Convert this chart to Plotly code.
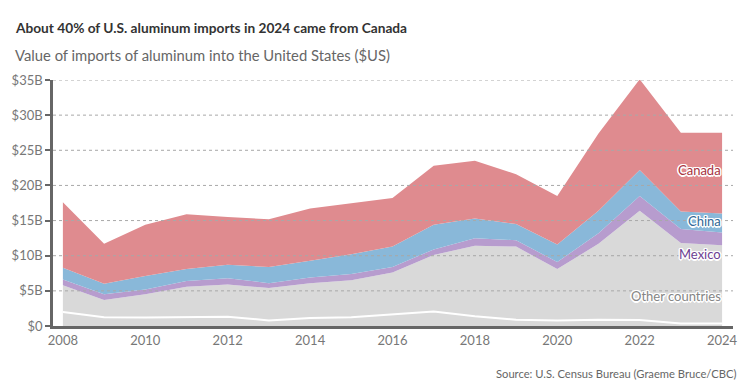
import plotly.graph_objects as go

years = list(range(2008, 2025))

# Values in $ billions (stack order bottom -> top)
other_base = [2.0, 1.25, 1.2, 1.3, 1.3, 0.8, 1.15, 1.25, 1.6, 2.05, 1.4, 0.9, 0.8, 0.9, 0.85, 0.35, 0.35]
other_rest = [3.8, 2.45, 3.3, 4.3, 4.6, 4.6, 4.95, 5.25, 6.0, 8.05, 10.0, 10.4, 7.3, 10.8, 15.55, 11.45, 11.15]
mexico = [0.8, 0.8, 0.7, 0.8, 0.9, 0.7, 0.8, 0.9, 0.8, 0.8, 1.1, 0.9, 1.0, 1.5, 2.1, 2.0, 1.8]
china = [1.7, 1.5, 1.9, 1.7, 1.9, 2.3, 2.4, 2.8, 2.9, 3.5, 2.8, 2.3, 2.5, 3.2, 3.7, 2.5, 2.7]
canada = [9.3, 5.7, 7.3, 7.8, 6.8, 6.8, 7.4, 7.3, 6.9, 8.4, 8.2, 7.1, 6.9, 11.0, 12.9, 11.2, 11.5]

y_ticks = [0, 5, 10, 15, 20, 25, 30, 35]
y_ticktext = ["$0", "$5B", "$10B", "$15B", "$20B", "$25B", "$30B", "$35B"]
x_ticks = [2008, 2010, 2012, 2014, 2016, 2018, 2020, 2022, 2024]

FONT = "Lato"
GREY = "#d9d9d9"

fig = go.Figure()

def add_layer(name, vals, fill, line_color=None, line_width=0):
    fig.add_trace(go.Scatter(
        x=years, y=vals, name=name, mode="lines", stackgroup="one",
        fillcolor=fill,
        line=dict(width=line_width, color=line_color or fill),
        hoverinfo="skip",
    ))

add_layer("Other (base)", other_base, GREY, "#ffffff", 2)
add_layer("Other countries", other_rest, GREY)
add_layer("Mexico", mexico, "#b79cce")
add_layer("China", china, "#89b8d9")
add_layer("Canada", canada, "#df8b8f")

# dotted gridlines drawn above the areas
for v in y_ticks[1:]:
    fig.add_shape(type="line", xref="paper", x0=0, x1=1, yref="y", y0=v, y1=v,
                  line=dict(color="#a8a8a8", width=1, dash="dot"), layer="above")

halo = ("-1px -1px 0 #fff, 1px -1px 0 #fff, -1px 1px 0 #fff, 1px 1px 0 #fff, "
        "0 -1.5px 0 #fff, 0 1.5px 0 #fff, -1.5px 0 0 #fff, 1.5px 0 0 #fff")

labels = [
    ("Canada", 22.2, "#a83340"),
    ("China", 14.95, "#2f6796"),
    ("Mexico", 10.2, "#6c3f92"),
    ("Other countries", 4.26, "#858585"),
]
for txt, yv, col in labels:
    fig.add_annotation(x=2024, y=yv, xref="x", yref="y", text=txt, showarrow=False,
                       xanchor="right", yanchor="middle", xshift=1,
                       font=dict(family=FONT, size=13, color=col, shadow=halo))

fig.add_annotation(xref="paper", yref="paper", x=-0.0583, y=1.212, xanchor="left", yanchor="middle",
                   text="<b>About 40% of U.S. aluminum imports in 2024 came from Canada</b>",
                   showarrow=False, font=dict(family=FONT, size=13.7, color="#333333"))
fig.add_annotation(xref="paper", yref="paper", x=-0.0583, y=1.102, xanchor="left", yanchor="middle",
                   text="Value of imports of aluminum into the United States ($US)",
                   showarrow=False, font=dict(family=FONT, size=14.8, color="#666666"))
fig.add_annotation(xref="paper", yref="paper", x=0.9985, y=-0.193, xanchor="right", yanchor="middle",
                   xshift=7,
                   text="Source: U.S. Census Bureau (Graeme Bruce/CBC)",
                   showarrow=False, font=dict(family=FONT, size=11.2, color="#666666"))

fig.update_layout(
    width=750, height=385,
    margin=dict(l=52, r=12, t=80, b=59),
    paper_bgcolor="white", plot_bgcolor="white",
    showlegend=False,
    font=dict(family=FONT, color="#777777"),
    xaxis=dict(range=[2007.76, 2024.265], tickvals=x_ticks, showgrid=False, zeroline=False,
               showline=True, linecolor="#666666", linewidth=3, ticks="",
               tickfont=dict(size=13, color="#777777")),
    yaxis=dict(range=[0, 35], tickvals=y_ticks, ticktext=y_ticktext, showgrid=False, zeroline=False,
               showline=True, linecolor="#666666", linewidth=2.5, ticks="outside", ticklen=5,
               tickwidth=2, tickcolor="#666666",
               tickfont=dict(size=13, color="#777777")),
)

fig.write_html("out.html", config={"displayModeBar": False},
               post_script="document.body.style.margin='0';document.body.style.overflow='hidden';")
